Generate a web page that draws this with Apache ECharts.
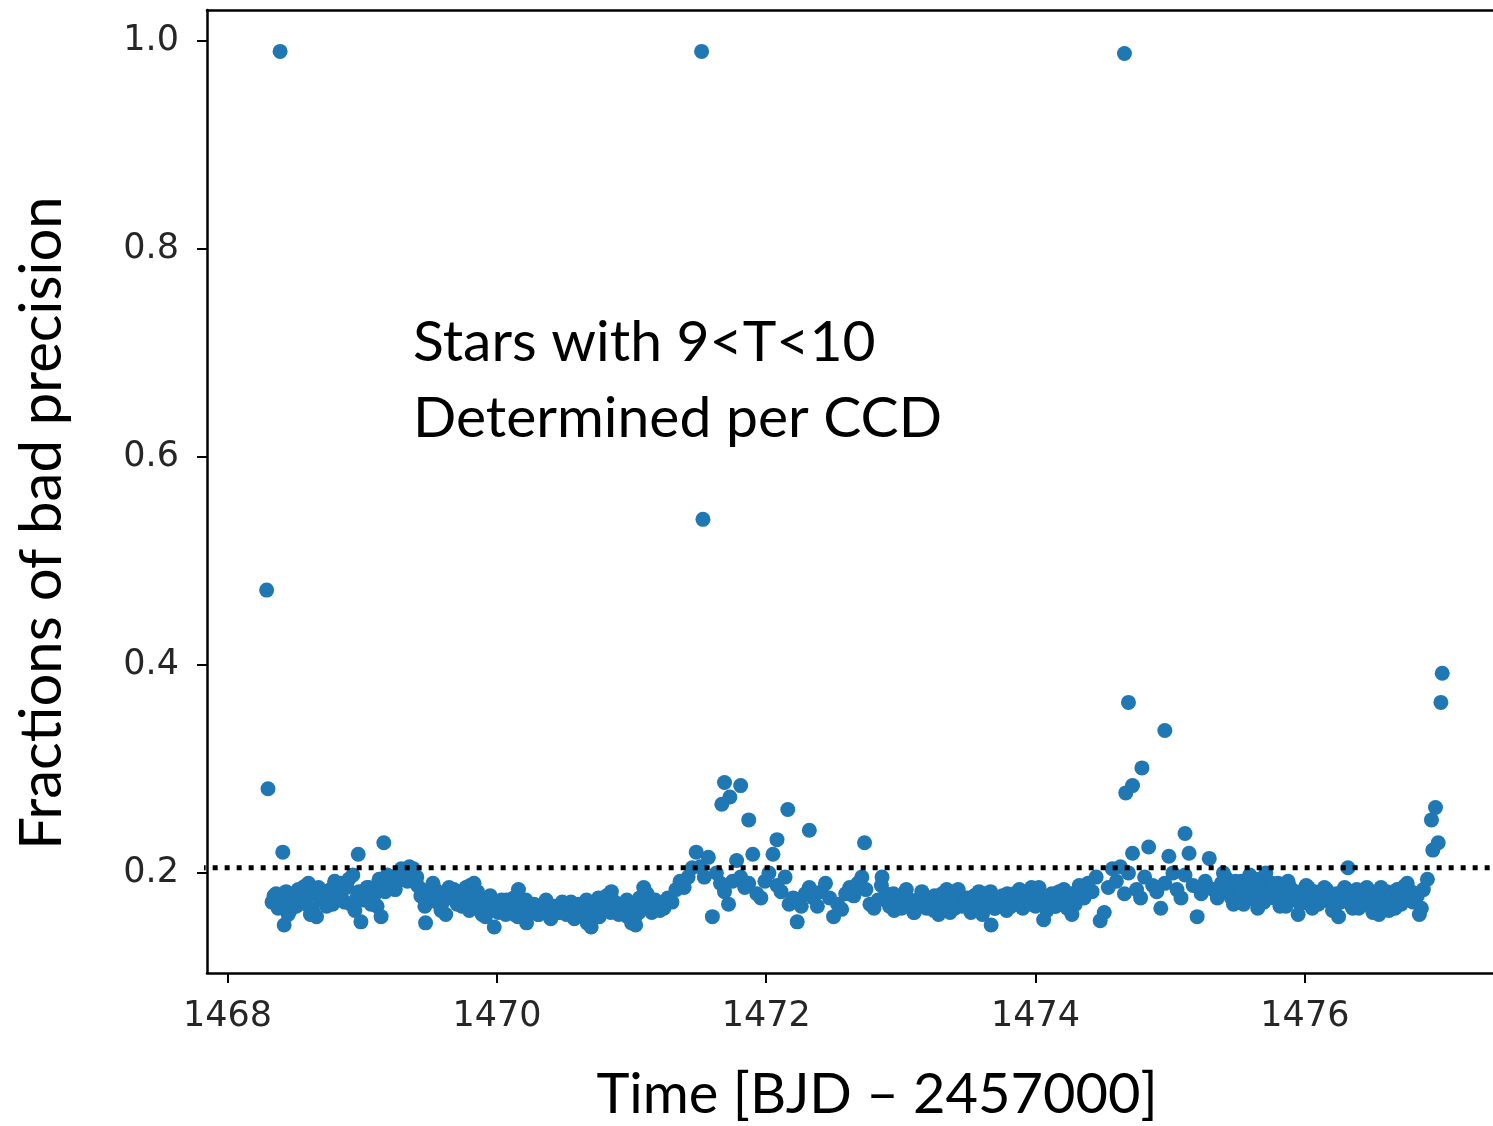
<!DOCTYPE html>
<html>
<head>
<meta charset="utf-8">
<script src="https://cdn.jsdelivr.net/npm/echarts@6/dist/echarts.min.js"></script>
<style>
html,body{margin:0;padding:0;background:#fff;}
#chart{width:1493px;height:1126px;}
</style>
</head>
<body>
<div id="chart"></div>
<script>
// Regular-cadence band of points (time in BJD - 2457000, fraction of bad precision)
const bandTime = [
1468.33,1468.36,1468.39,1468.42,1468.45,1468.48,1468.51,1468.54,1468.57,1468.60,
1468.63,1468.66,1468.69,1468.72,1468.75,1468.78,1468.81,1468.84,1468.87,1468.90,
1468.93,1468.96,1468.99,1469.02,1469.05,1469.08,1469.11,1469.14,1469.17,1469.20,
1469.23,1469.26,1469.29,1469.32,1469.35,1469.38,1469.41,1469.44,1469.47,1469.50,
1469.53,1469.56,1469.59,1469.62,1469.65,1469.68,
1469.71,1469.74,1469.77,1469.80,1469.83,1469.86,1469.89,1469.92,1469.95,1469.98,
1470.01,1470.04,1470.07,1470.10,1470.13,1470.16,1470.19,1470.22,1470.25,1470.28,
1470.31,1470.34,1470.37,1470.40,1470.43,1470.46,1470.49,1470.52,1470.55,1470.58,
1470.61,1470.64,1470.67,1470.70,1470.73,1470.76,1470.79,1470.82,1470.85,1470.88,
1470.91,1470.94,1470.97,1471.00,1471.03,1471.06,1471.09,1471.12,1471.15,1471.18,1471.21,
1471.24,1471.27,1471.30,1471.33,1471.36,1471.39,1471.42,1471.45,1471.48,1471.51,
1471.54,1471.57,1471.60,1471.63,1471.66,1471.69,1471.72,1471.75,1471.78,1471.81,
1471.84,1471.87,1471.90,1471.93,1471.96,1471.99,1472.02,1472.05,1472.08,1472.11,
1472.14,1472.17,1472.20,1472.23,1472.26,1472.29,1472.32,
1472.35,1472.38,1472.41,1472.44,1472.47,1472.50,1472.53,1472.56,1472.59,1472.62,
1472.65,1472.68,1472.71,1472.74,1472.77,1472.80,1472.83,1472.86,1472.89,1472.92,
1472.95,1472.98,1473.01,1473.04,1473.07,1473.10,1473.13,1473.16,1473.19,1473.22,
1473.25,1473.28,1473.31,1473.34,1473.37,1473.40,1473.43,1473.46,1473.49,1473.52,
1473.55,1473.58,1473.61,1473.64,1473.67,1473.70,1473.73,1473.76,1473.79,1473.82,
1473.85,1473.88,1473.91,1473.94,1473.97,1474.00,1474.03,1474.06,1474.09,1474.12,
1474.15,1474.18,1474.21,1474.24,1474.27,1474.30,1474.33,1474.36,1474.39,1474.42,1474.45,
1474.48,1474.51,1474.54,1474.57,1474.60,1474.63,1474.66,1474.69,1474.72,1474.75,
1474.78,1474.81,1474.84,1474.87,1474.90,1474.93,1474.96,1474.99,1475.02,1475.05,
1475.08,1475.11,1475.14,1475.17,1475.20,1475.23,1475.26,1475.29,1475.32,
1475.35,1475.38,1475.41,1475.44,1475.47,1475.50,1475.53,1475.56,1475.59,1475.62,
1475.65,1475.68,1475.71,1475.74,1475.77,1475.80,1475.83,1475.86,1475.89,1475.92,
1475.95,1475.98,1476.01,1476.04,1476.07,1476.10,1476.13,1476.16,1476.19,1476.22,
1476.25,1476.28,1476.31,1476.34,1476.37,1476.40,1476.43,1476.46,1476.49,1476.52,
1476.55,1476.58,1476.61,1476.64,1476.67,1476.70,1476.73,1476.76,1476.79,1476.82,
1476.85,1476.88,1476.91
];
const bandFrac = [
0.172,0.180,0.176,0.150,0.160,0.172,0.168,0.176,0.187,0.190,
0.165,0.158,0.174,0.178,0.183,0.170,0.186,0.190,0.172,0.194,
0.198,0.176,0.153,0.180,0.186,0.176,0.168,0.158,0.182,0.190,
0.196,0.192,0.204,0.200,0.206,0.204,0.188,0.184,0.152,0.176,
0.186,0.182,0.170,0.160,0.176,0.184,
0.178,0.168,0.186,0.188,0.190,0.176,0.160,0.170,0.178,0.148,
0.162,0.170,0.174,0.166,0.160,0.184,0.170,0.152,0.164,0.168,
0.160,0.166,0.170,0.156,0.166,0.162,0.170,0.164,0.172,0.168,
0.160,0.170,0.152,0.148,0.162,0.158,0.166,0.172,0.182,0.168,
0.164,0.170,0.158,0.152,0.150,0.176,0.186,0.170,0.162,0.168,0.164,
0.166,0.176,0.172,0.184,0.192,0.186,0.196,0.205,0.220,0.206,
0.196,0.215,0.158,0.200,0.190,0.182,0.170,0.192,0.212,0.196,
0.186,0.190,0.218,0.180,0.176,0.192,0.200,0.218,0.188,0.182,
0.196,0.170,0.176,0.153,0.168,0.180,0.186,
0.176,0.168,0.182,0.190,0.176,0.158,0.170,0.165,0.180,0.186,
0.178,0.190,0.196,0.184,0.170,0.166,0.174,0.196,0.180,0.172,
0.164,0.176,0.168,0.184,0.174,0.162,0.170,0.180,0.166,0.172,
0.178,0.160,0.168,0.184,0.174,0.166,0.180,0.170,0.176,0.162,
0.174,0.182,0.168,0.172,0.150,0.166,0.176,0.170,0.180,0.168,
0.176,0.184,0.172,0.178,0.186,0.168,0.176,0.155,0.172,0.180,
0.168,0.176,0.184,0.172,0.160,0.178,0.186,0.176,0.190,0.182,0.196,
0.154,0.162,0.186,0.204,0.192,0.206,0.180,0.200,0.219,0.184,
0.176,0.196,0.225,0.188,0.182,0.166,0.190,0.216,0.200,0.184,
0.176,0.198,0.219,0.188,0.158,0.180,0.192,0.214,0.184,
0.176,0.190,0.196,0.180,0.170,0.186,0.192,0.176,0.198,0.182,
0.166,0.194,0.200,0.184,0.176,0.190,0.180,0.168,0.186,0.176,
0.160,0.180,0.188,0.174,0.182,0.170,0.178,0.184,0.172,0.166,
0.158,0.176,0.184,0.170,0.178,0.166,0.176,0.186,0.180,0.168,
0.160,0.172,0.182,0.176,0.166,0.178,0.186,0.190,0.182,0.174,
0.160,0.184,0.194
];
// Interleaved points in the densest stretches of the band
const denseTime = [
1468.345,1468.375,1468.405,1468.435,1468.465,1468.495,1468.525,1468.555,1468.585,1468.615,
1468.645,1468.675,1468.705,1468.735,1468.765,1468.795,1468.825,1468.855,1468.885,1468.915,
1468.945,1468.975,1469.005,1469.035,1469.065,1469.095,1469.125,1469.155,1469.185,1469.215,
1469.245,1469.275,1469.305,1469.335,
1469.405,1469.435,1469.465,1469.495,1469.525,1469.555,1469.585,1469.615,1469.645,1469.675,
1469.705,1469.735,1469.765,1469.795,1469.825,1469.855,1469.885,1469.915,1469.945,1469.975,
1470.005,1470.035,1470.065,1470.095,1470.125,1470.155,1470.185,1470.215,1470.245,1470.275,
1470.305,1470.335,1470.365,1470.395,1470.425,1470.455,1470.485,1470.515,1470.545,1470.575,
1470.605,1470.635,1470.665,1470.695,1470.725,1470.755,1470.785,1470.815,1470.845,1470.875,
1470.905,1470.935,1470.965,1470.995,1471.025,1471.055,1471.085,1471.115,1471.145,1471.175,
1472.855,1472.885,1472.915,1472.945,1472.975,1473.005,1473.035,1473.065,1473.095,1473.125,
1473.155,1473.185,1473.215,1473.245,1473.275,1473.305,1473.335,1473.365,1473.395,1473.425,
1473.455,1473.485,1473.515,1473.545,1473.575,1473.605,1473.635,1473.665,1473.695,1473.725,
1473.755,1473.785,1473.815,1473.845,1473.875,1473.905,1473.935,1473.965,1473.995,1474.025,
1474.055,1474.085,1474.115,1474.145,1474.175,1474.205,1474.235,1474.265,1474.295,1474.325,1474.355,
1475.365,1475.395,1475.425,1475.455,1475.485,1475.515,1475.545,1475.575,1475.605,1475.635,
1475.665,1475.695,1475.725,1475.755,1475.785,1475.815,1475.845,1475.875,1475.905,1475.935,
1475.965,1475.995,1476.025,1476.055,1476.085,1476.115,1476.145,1476.175,1476.205,1476.235,
1476.265,1476.295,1476.325,1476.355,1476.385,1476.415,1476.445,1476.475,1476.505,1476.535,
1476.565,1476.595,1476.625,1476.655,1476.685,1476.715,1476.745,1476.775,1476.805,1476.835,1476.865
];
const denseFrac = [
0.178,0.166,0.170,0.182,0.164,0.174,0.184,0.178,0.170,0.160,
0.180,0.186,0.176,0.168,0.184,0.192,0.180,0.174,0.186,0.170,
0.164,0.182,0.174,0.186,0.170,0.180,0.194,0.186,0.198,0.190,
0.184,0.196,0.200,0.192,
0.196,0.178,0.168,0.180,0.190,0.172,0.164,0.178,0.186,0.180,
0.170,0.182,0.176,0.164,0.172,0.182,0.166,0.158,0.176,0.170,
0.164,0.174,0.160,0.168,0.176,0.158,0.166,0.174,0.162,0.170,
0.160,0.166,0.174,0.158,0.168,0.162,0.172,0.160,0.166,0.156,
0.170,0.164,0.174,0.160,0.168,0.176,0.170,0.178,0.162,0.172,
0.160,0.166,0.174,0.168,0.158,0.162,0.172,0.180,0.168,0.174,
0.188,0.176,0.168,0.180,0.172,0.166,0.178,0.170,0.162,0.174,
0.182,0.168,0.176,0.164,0.172,0.180,0.170,0.162,0.176,0.184,
0.168,0.174,0.166,0.178,0.170,0.160,0.174,0.182,0.166,0.172,
0.178,0.164,0.170,0.180,0.174,0.166,0.182,0.170,0.176,0.186,
0.172,0.164,0.178,0.168,0.182,0.174,0.166,0.180,0.170,0.188,0.178,
0.186,0.200,0.184,0.176,0.192,0.180,0.170,0.188,0.176,0.194,
0.184,0.172,0.180,0.190,0.178,0.168,0.184,0.192,0.176,0.182,
0.170,0.178,0.186,0.166,0.180,0.174,0.186,0.176,0.164,0.180,
0.172,0.186,0.178,0.166,0.184,0.174,0.170,0.182,0.162,0.176,
0.186,0.172,0.164,0.178,0.184,0.170,0.188,0.180,0.172,0.178,0.166
];
// Isolated high points
const spikeTime = [1468.29,1468.30,1468.39,1468.41,1468.97,1469.16,1471.52,1471.53,
  1471.67,1471.69,1471.73,1471.81,1471.87,1472.08,1472.16,1472.32,1472.73,
  1474.66,1474.69,1474.67,1474.72,1474.79,1474.96,1475.11,
  1476.32,1476.94,1476.97,1476.95,1476.99,1477.01,1477.02];
const spikeFrac = [0.472,0.281,0.990,0.220,0.218,0.229,0.990,0.540,
  0.266,0.287,0.273,0.284,0.251,0.232,0.261,0.241,0.229,
  0.988,0.364,0.277,0.284,0.301,0.337,0.238,
  0.205,0.251,0.263,0.222,0.229,0.364,0.392];
const threshold = 0.205;
const xTicks = [1468,1470,1472,1474,1476];
const yTicks = [0.2,0.4,0.6,0.8,1.0];

const pts = [];
for (let i = 0; i < bandTime.length; i++) pts.push([bandTime[i], bandFrac[i]]);
for (let i = 0; i < denseTime.length; i++) pts.push([denseTime[i], denseFrac[i]]);
for (let i = 0; i < spikeTime.length; i++) pts.push([spikeTime[i], spikeFrac[i]]);

const chart = echarts.init(document.getElementById('chart'), null, {renderer:'canvas'});
const tickFont = {fontFamily:'DejaVu Sans', fontSize:35, color:'#262626'};
chart.setOption({
  animation:false,
  backgroundColor:'#fff',
  grid:{left:207, top:10, right:0, bottom:153, containLabel:false},
  xAxis:[{
    type:'value', min:1467.847, max:1477.397,
    axisLine:{show:true, onZero:false, lineStyle:{color:'#000', width:2.5}},
    axisTick:{show:true, customValues:xTicks, length:10, lineStyle:{color:'#000', width:2}},
    axisLabel:{show:true, customValues:xTicks, margin:26, ...tickFont, formatter:v=>String(Math.round(v))},
    splitLine:{show:false}
  },{
    type:'value', position:'top', min:1467.847, max:1477.397,
    axisLine:{show:true, onZero:false, lineStyle:{color:'#000', width:2.5}},
    axisTick:{show:false}, axisLabel:{show:false}, splitLine:{show:false}
  }],
  yAxis:{
    type:'value', min:0.1038, max:1.0298,
    axisLine:{show:true, onZero:false, lineStyle:{color:'#000', width:2.5}},
    axisTick:{show:true, customValues:yTicks, length:10, lineStyle:{color:'#000', width:2}},
    axisLabel:{show:true, customValues:yTicks, margin:28, ...tickFont, formatter:v=>v.toFixed(1)},
    splitLine:{show:false}
  },
  series:[{
    type:'scatter', data:pts, symbolSize:15,
    itemStyle:{color:'#1f77b4', opacity:1}, z:2
  },{
    type:'line', data:[[1467.80,threshold],[1477.5,threshold]], symbol:'none',
    lineStyle:{color:'#000', width:5, type:[5,7], cap:'butt'}, z:5, silent:true
  }],
  graphic:[
    {type:'text', left:413, top:314, style:{text:'Stars with 9<T<10', font:'57px Lato', fill:'#000'}},
    {type:'text', left:413, top:390, style:{text:'Determined per CCD', font:'57px Lato', fill:'#000'}},
    {type:'text', x:877, y:1095, style:{text:'Time [BJD \u2013 2457000]', font:'56px Lato', fill:'#000', align:'center', verticalAlign:'middle'}},
    {type:'text', x:42, y:523, rotation:Math.PI/2, style:{text:'Fractions of bad precision', font:'58px Lato', fill:'#000', align:'center', verticalAlign:'middle'}}
  ]
});
</script>
</body>
</html>
